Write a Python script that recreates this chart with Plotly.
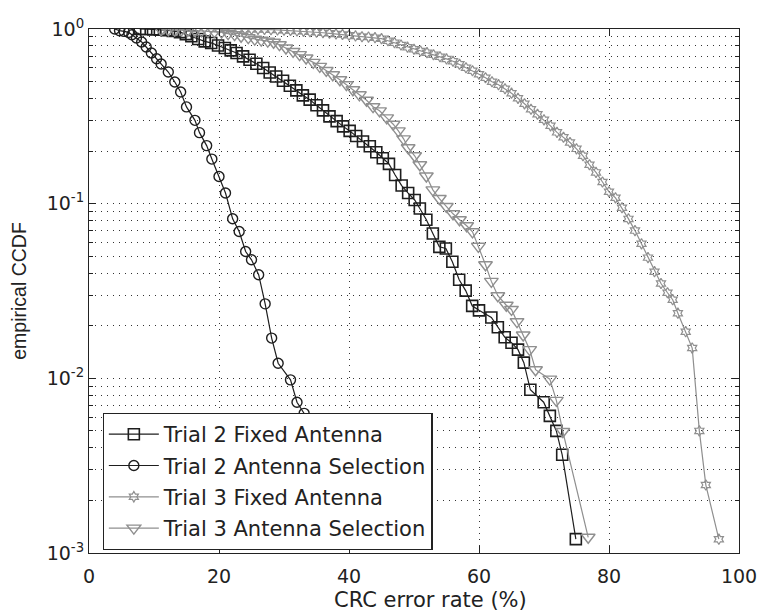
import plotly.graph_objects as go

# ---------------- data ----------------
t2_fixed_x = [7.8, 8.8, 9.85, 10.9, 11.9, 12.9, 14.0, 14.9, 15.75, 16.8, 17.8, 18.8, 19.85, 20.9,
              21.8, 22.7, 23.7, 24.7, 25.75, 26.8, 27.8, 28.8, 29.85, 30.9, 31.9, 32.9, 33.95,
              35.0, 36.0, 37.0, 38.1, 39.1, 40.1, 41.1, 42.15, 43.2, 44.2, 45.2, 46.15, 47.1,
              48.1, 49.1, 50.1, 50.9, 51.9, 52.9, 53.9, 54.9, 55.9, 56.95, 57.95, 58.95, 60.0,
              61.9, 62.9, 63.95, 65.0, 66.0, 66.9, 67.9, 69.95, 70.9, 71.9, 72.8, 74.9]
t2_fixed_y = [1.0, 1.0, 0.995, 0.99, 0.985, 0.975, 0.96, 0.935, 0.908, 0.877, 0.849, 0.832, 0.805,
              0.778, 0.754, 0.729, 0.697, 0.667, 0.633, 0.598, 0.564, 0.535, 0.506, 0.473, 0.445,
              0.417, 0.394, 0.366, 0.342, 0.316, 0.297, 0.277, 0.261, 0.244, 0.227, 0.213, 0.197,
              0.182, 0.169, 0.146, 0.127, 0.115, 0.105, 0.0938, 0.0809, 0.0675, 0.0566, 0.0554,
              0.0465, 0.0367, 0.0318, 0.0260, 0.0245, 0.0223, 0.0196, 0.0172, 0.0160, 0.0146,
              0.0123, 0.0086, 0.0073, 0.0061, 0.0050, 0.00365, 0.0012]

t2_sel_x = [3.95, 4.7, 5.4, 6.1, 6.6, 7.3, 8.1, 8.8, 9.6, 10.4, 11.1, 12.2, 13.2, 14.1, 15.0, 16.3,
            17.0, 18.1, 18.9, 20.0, 21.0, 22.1, 23.1, 24.1, 25.0, 26.1, 27.1, 28.1, 29.1, 31.0,
            32.0, 33.1, 34.2, 35.3, 36.5, 38.5]
t2_sel_y = [1.0, 0.978, 0.969, 0.956, 0.927, 0.888, 0.843, 0.789, 0.729, 0.676, 0.630, 0.567,
            0.497, 0.436, 0.358, 0.300, 0.255, 0.215, 0.180, 0.143, 0.115, 0.0819, 0.0693,
            0.0532, 0.0477, 0.0392, 0.0267, 0.0170, 0.0122, 0.0098, 0.0073, 0.0063, 0.0045,
            0.0030, 0.0020, 0.0012]

t3_fixed_x = [20, 21, 22, 23, 24, 25, 26, 27, 28, 29, 30, 31, 32, 33, 34, 35, 36, 37, 38, 39, 40,
              41, 42, 43, 44, 45, 46, 47, 48, 49, 50, 51, 52, 53, 54, 55, 56, 57, 58, 59, 60, 61,
              62, 63, 64, 65, 66, 67, 68, 69, 70, 71, 72, 73, 74, 75, 76, 77, 78, 79, 80, 81, 82,
              83, 84, 85, 86, 87, 88, 89, 89.8, 90.6, 91.8, 92.8, 93.9, 94.9, 96.9]
t3_fixed_y = [1.0, 1.0, 1.0, 1.0, 0.999, 0.997, 0.996, 0.993, 0.991, 0.988, 0.984, 0.980, 0.975,
              0.970, 0.965, 0.959, 0.952, 0.945, 0.937, 0.930, 0.922, 0.913, 0.903, 0.899, 0.892,
              0.880, 0.857, 0.835, 0.810, 0.787, 0.766, 0.748, 0.732, 0.712, 0.694, 0.674, 0.654,
              0.628, 0.600, 0.577, 0.551, 0.526, 0.499, 0.480, 0.455, 0.429, 0.401, 0.373, 0.347,
              0.325, 0.302, 0.279, 0.256, 0.240, 0.224, 0.206, 0.188, 0.167, 0.151, 0.133, 0.117,
              0.108, 0.0948, 0.0818, 0.0701, 0.0589, 0.0491, 0.0408, 0.0349, 0.0309, 0.0282,
              0.0236, 0.0185, 0.0149, 0.0050, 0.00245, 0.0012]

t3_sel_x = [11.1, 12.2, 13.2, 14.2, 15.2, 16.3, 17.3, 18.3, 19.3, 20.4, 21.4, 22.4, 23.4, 24.5,
            25.5, 26.5, 27.5, 28.4, 29.3, 30.3, 31.4, 32.4, 33.4, 34.5, 35.5, 36.5, 37.5, 38.6,
            39.6, 40.6, 41.6, 42.7, 43.7, 44.7, 45.8, 46.8, 47.6, 48.4, 49.1, 50.1, 50.9, 51.9,
            52.9, 53.9, 54.97, 56.0, 57.0, 58.1, 59.0, 59.9, 61.0, 61.9, 62.9, 64.2, 65.0, 65.85,
            66.8, 67.8, 68.7, 70.9, 71.9, 72.9, 76.8]
t3_sel_y = [0.99, 0.99, 0.985, 0.985, 0.98, 0.98, 0.975, 0.97, 0.965, 0.96, 0.94, 0.928, 0.909,
            0.892, 0.874, 0.863, 0.852, 0.840, 0.813, 0.778, 0.744, 0.713, 0.682, 0.644, 0.611,
            0.579, 0.547, 0.512, 0.480, 0.449, 0.420, 0.391, 0.359, 0.340, 0.310, 0.285, 0.261,
            0.235, 0.209, 0.188, 0.167, 0.144, 0.120, 0.107, 0.0964, 0.0875, 0.0809, 0.0747,
            0.0690, 0.0570, 0.0447, 0.0359, 0.0297, 0.0262, 0.0248, 0.0211, 0.0177, 0.0146,
            0.0112, 0.00989, 0.00748, 0.00496, 0.00123]

x_ticks = [0, 20, 40, 60, 80, 100]
y_major = [0.001, 0.01, 0.1, 1]
y_major_text = ["10<sup>-3</sup>", "10<sup>-2</sup>", "10<sup>-1</sup>", "10<sup>0</sup>"]
y_minor = [m * 10.0 ** e for e in (-3, -2, -1) for m in range(2, 10)]

names = ["Trial 2 Fixed Antenna", "Trial 2 Antenna Selection",
         "Trial 3 Fixed Antenna", "Trial 3 Antenna Selection"]
x_title = "CRC error rate (%)"
y_title = "empirical CCDF"

# ---------------- figure ----------------
DARK = "#1e1e1e"
GREY = "#8f8f8f"
WIDE = "DejaVu Sans, Liberation Sans, sans-serif"
NARROW = "Liberation Sans, Arial, sans-serif"

fig = go.Figure()
fig.add_trace(go.Scatter(x=t2_fixed_x, y=t2_fixed_y, name=names[0], mode="lines+markers",
                         legendgroup="a",
                         line=dict(color=DARK, width=1.2),
                         marker=dict(symbol="square-open", size=11, color=DARK,
                                     line=dict(width=1.6, color=DARK))))
fig.add_trace(go.Scatter(x=t2_sel_x, y=t2_sel_y, name=names[1], mode="lines+markers",
                         legendgroup="b",
                         line=dict(color=DARK, width=1.2),
                         marker=dict(symbol="circle-open", size=10, color=DARK,
                                     line=dict(width=1.4, color=DARK))))
fig.add_trace(go.Scatter(x=t3_fixed_x, y=t3_fixed_y, name=names[2], mode="lines+markers",
                         legendgroup="c",
                         line=dict(color=GREY, width=1.2),
                         marker=dict(symbol="hexagram-open", size=8, color=GREY,
                                     line=dict(width=1.2, color=GREY))))
fig.add_trace(go.Scatter(x=t3_sel_x, y=t3_sel_y, name=names[3], mode="lines+markers",
                         legendgroup="d",
                         line=dict(color=GREY, width=1.2),
                         marker=dict(symbol="triangle-down-open", size=12, color=GREY,
                                     line=dict(width=1.4, color=GREY))))

axis_common = dict(showline=True, linecolor="#222", linewidth=1.2, mirror="ticks",
                   ticks="inside", ticklen=7, tickcolor="#222", zeroline=False,
                   showgrid=True, gridcolor="#333", griddash="1px,5px", gridwidth=1,
                   tickfont=dict(family=WIDE, size=19, color="#222"))

fig.update_xaxes(range=[0, 100], tickvals=x_ticks, ticktext=[str(v) for v in x_ticks],
                 ticklabelstandoff=6, automargin=False, **axis_common)
fig.update_yaxes(type="log", range=[-3, 0], tickvals=y_major, ticktext=y_major_text,
                 automargin=False,
                 title=dict(text=y_title, standoff=16,
                            font=dict(family=NARROW, size=19.5, color="#222")),
                 minor=dict(tickvals=y_minor, ticks="inside", ticklen=4, tickcolor="#222",
                            showgrid=True, gridcolor="#333", griddash="1px,5px", gridwidth=1),
                 **axis_common)

fig.add_annotation(text=x_title, xref="paper", yref="paper", x=0.525, y=-0.09,
                   xanchor="center", yanchor="middle", showarrow=False,
                   font=dict(family=WIDE, size=21, color="#222"))

fig.update_layout(
    width=758, height=607,
    margin=dict(l=81, r=27, t=21, b=62),
    paper_bgcolor="white", plot_bgcolor="white",
    font=dict(family=WIDE, color="#222"),
    showlegend=True,
    legend=dict(x=0.021, y=0.006, xanchor="left", yanchor="bottom",
                bgcolor="white", bordercolor="#222", borderwidth=1.2,
                font=dict(family=WIDE, size=21, color="#222"), itemwidth=50,
                traceorder="grouped", tracegroupgap=1),
)

fig.write_html("out.html")
